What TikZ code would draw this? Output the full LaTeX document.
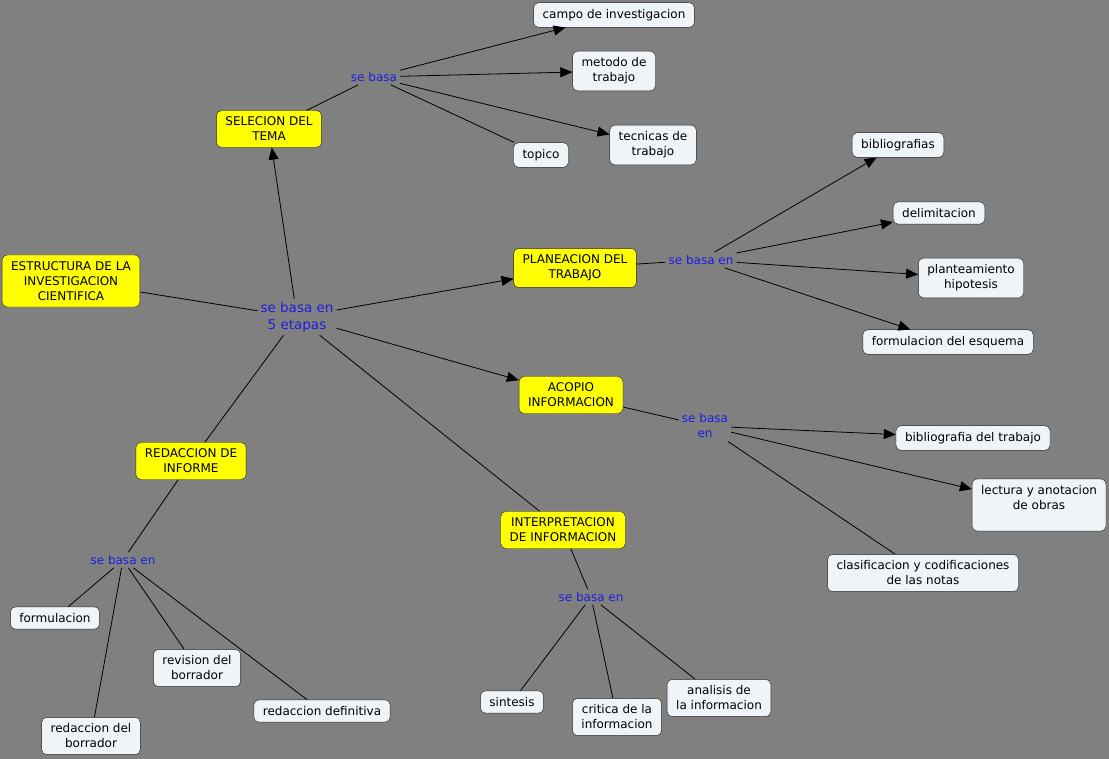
\documentclass[tikz,border=0pt]{standalone}
\usepackage{fontspec}
\setmainfont{DejaVu Sans}
\usetikzlibrary{arrows.meta,positioning}
\definecolor{slate}{RGB}{128,128,128}
\definecolor{lemon}{RGB}{255,255,0}
\definecolor{frost}{RGB}{238,244,247}
\definecolor{ink}{RGB}{34,34,34}
\definecolor{linkblue}{RGB}{30,30,225}
\tikzset{
  topicbox/.style={draw=ink,fill=lemon,rounded corners=5pt,align=center,inner xsep=9pt,inner ysep=6.5pt,font=\fontsize{12}{15}\selectfont},
  leafbox/.style={draw=ink,fill=frost,rounded corners=5pt,align=center,inner xsep=9pt,inner ysep=6.5pt,font=\fontsize{12}{15}\selectfont},
  linklabel/.style={text=linkblue,align=center,inner sep=3pt,font=\fontsize{12}{15}\selectfont},
  conn/.style={draw=black,line width=0.8pt},
  arr/.style={conn,-{Triangle[length=12pt,width=10pt]}}
}
\begin{document}
\begin{tikzpicture}[x=1pt,y=-1pt]
  \fill[slate] (0,0) rectangle (1109,759);
  \useasboundingbox (0,0) rectangle (1109,759);
  % main topics
  \node[topicbox] (estr) at (71,281) {ESTRUCTURA DE LA\\INVESTIGACION\\CIENTIFICA};
  \node[linklabel,font=\fontsize{13.5}{17}\selectfont] (lmain) at (297,317) {se basa en\\5 etapas};
  \node[topicbox] (selec) at (269,129) {SELECION DEL\\TEMA};
  \node[topicbox] (plan) at (575,268) {PLANEACION DEL\\TRABAJO};
  \node[topicbox] (acopio) at (571,395) {ACOPIO\\INFORMACION};
  \node[topicbox] (interp) at (563,530) {INTERPRETACION\\DE INFORMACION};
  \node[topicbox] (redac) at (191,461) {REDACCION DE\\INFORME};
  % link labels
  \node[linklabel] (lselec) at (374,77) {se basa};
  \node[linklabel] (lplan) at (701,260) {se basa en};
  \node[linklabel] (lacop) at (705,426) {se basa\\en};
  \node[linklabel] (linterp) at (591,597) {se basa en};
  \node[linklabel] (lredac) at (123,560) {se basa en};
  % leaves
  \foreach \n/\p/\t in {camp/{614,15}/campo de investigacion,metodo/{614,71}/metodo de\\trabajo,
      tecnicas/{653,145}/tecnicas de\\trabajo,topico/{541,155}/topico,
      biblios/{898,145}/bibliografias,delim/{939,213}/delimitacion,
      plante/{971,278}/planteamiento\\hipotesis,formesq/{948,342}/formulacion del esquema,
      bibtrab/{973,438}/bibliografia del trabajo,lectura/{1039,505}/lectura y anotacion\\de obras\\\mbox{},
      clasif/{923,573}/clasificacion y codificaciones\\de las notas,
      sintesis/{512,702}/sintesis,critica/{617,717}/critica de la\\informacion,analisis/{719,698}/analisis de\\la informacion,
      formul/{55,618}/formulacion,revision/{197,668}/revision del\\borrador,
      reddef/{322,711}/redaccion definitiva,redbor/{91,736}/redaccion del\\borrador}{
    \node[leafbox] (\n) at (\p) {\t};
  }
  % connectors
  \draw[conn] (estr) -- (lmain);
  \foreach \b in {selec,plan,acopio} \draw[arr] (lmain) -- (\b);
  \foreach \b in {interp,redac} \draw[conn] (lmain) -- (\b);
  \draw[conn] (selec) -- (lselec);
  \foreach \b in {camp,metodo,tecnicas} \draw[arr] (lselec) -- (\b);
  \draw[conn] (lselec) -- (topico);
  \draw[conn] (plan) -- (lplan);
  \foreach \b in {biblios,delim,plante,formesq} \draw[arr] (lplan) -- (\b);
  \draw[conn] (acopio) -- (lacop);
  \foreach \b in {bibtrab,lectura} \draw[arr] (lacop) -- (\b);
  \draw[conn] (lacop) -- (clasif);
  \draw[conn] (interp) -- (linterp);
  \foreach \b in {sintesis,critica,analisis} \draw[conn] (linterp) -- (\b);
  \draw[conn] (redac) -- (lredac);
  \foreach \b in {formul,redbor,revision,reddef} \draw[conn] (lredac) -- (\b);
\end{tikzpicture}
\end{document}
